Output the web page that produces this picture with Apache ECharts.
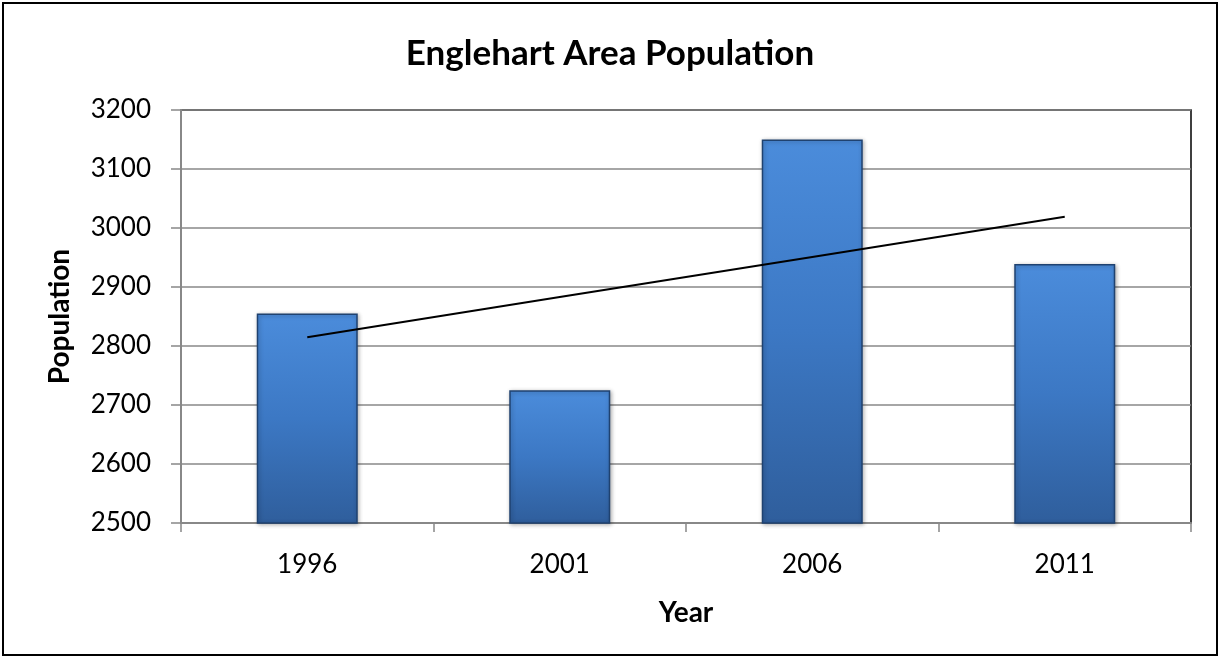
<!DOCTYPE html>
<html>
<head>
<meta charset="utf-8">
<script src="https://cdn.jsdelivr.net/npm/echarts@6/dist/echarts.min.js"></script>
<style>
  html, body { margin: 0; padding: 0; background: #fff; }
  #main { width: 1220px; height: 659px; }
</style>
</head>
<body>
<div id="main"></div>
<script>
// data
var years = ['1996', '2001', '2006', '2011'];
var population = [2855, 2725, 3150, 2939];
// linear trendline, endpoints
var trend = [2815, 2883, 2951, 3019];

var fontName = 'Lato, "Open Sans", sans-serif';

var chart = echarts.init(document.getElementById('main'));

var option = {
  backgroundColor: '#fff',
  animation: false,
  title: {
    text: 'Englehart Area Population',
    left: 'center',
    top: 31,
    textStyle: { fontFamily: fontName, fontSize: 35, fontWeight: 'bold', color: '#000' }
  },
  graphic: [{
    type: 'rect',
    shape: { x: 3, y: 3, width: 1214, height: 652 },
    style: { fill: 'none', stroke: '#000', lineWidth: 2 }
  }],
  grid: { left: 181, right: 29, top: 110, bottom: 136, show: true, borderColor: '#000', borderWidth: 1.5 },
  xAxis: {
    type: 'category',
    data: years,
    name: 'Year',
    nameLocation: 'middle',
    nameGap: 76,
    nameTextStyle: { fontFamily: fontName, fontSize: 28, fontWeight: 'bold', color: '#000' },
    axisLine: { lineStyle: { color: '#888', width: 2 } },
    axisTick: { show: true, length: 9, lineStyle: { color: '#888', width: 1.5 } },
    axisLabel: { fontFamily: fontName, fontSize: 26, color: '#000', margin: 29 }
  },
  yAxis: {
    type: 'value',
    min: 2500,
    max: 3200,
    interval: 100,
    name: 'Population',
    nameLocation: 'middle',
    nameGap: 107,
    nameTextStyle: { fontFamily: fontName, fontSize: 28, fontWeight: 'bold', color: '#000' },
    axisLine: { show: true, lineStyle: { color: '#888', width: 2 } },
    axisTick: { show: true, length: 10, lineStyle: { color: '#888', width: 1.5 } },
    axisLabel: {
      fontFamily: fontName, fontSize: 26, color: '#000', margin: 30,
      formatter: function (v) { return String(v); }
    },
    splitLine: { lineStyle: { color: '#888', width: 1.5 } }
  },
  series: [
    {
      name: 'Population',
      type: 'bar',
      data: population,
      barWidth: '40%',
      itemStyle: {
        color: new echarts.graphic.LinearGradient(0, 0, 0, 1, [
          { offset: 0, color: '#4b8cdb' },
          { offset: 0.5, color: '#3c78c4' },
          { offset: 1, color: '#2f5e9c' }
        ]),
        borderColor: '#1f4270',
        borderWidth: 1.5,
        shadowColor: 'rgba(0,0,0,0.3)',
        shadowBlur: 4,
        shadowOffsetX: 1,
        shadowOffsetY: 1
      }
    },
    {
      name: 'Trend',
      type: 'line',
      data: trend,
      symbol: 'none',
      z: 5,
      lineStyle: { color: '#000', width: 2 }
    }
  ]
};

chart.setOption(option);
</script>
</body>
</html>
